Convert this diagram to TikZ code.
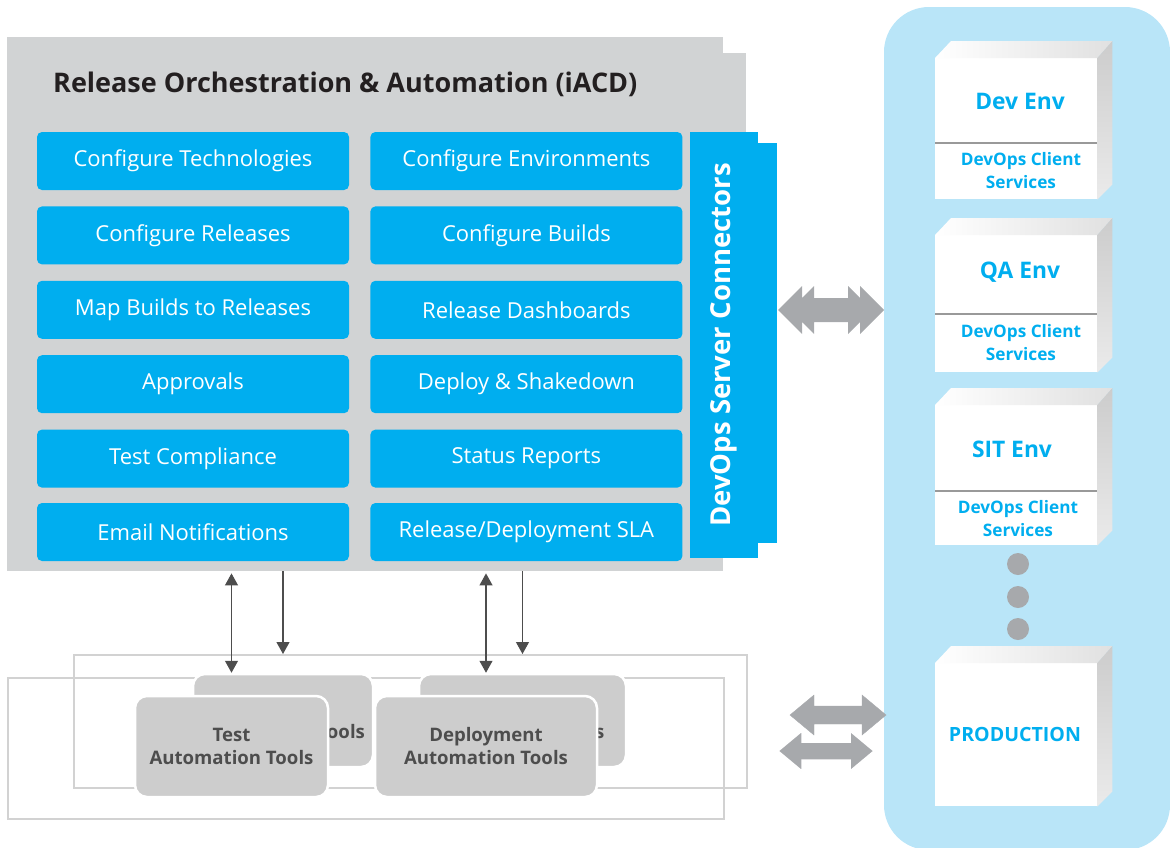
\documentclass[tikz,border=0pt]{standalone}
\usepackage{fontspec}
\setmainfont{Open Sans}
\usetikzlibrary{arrows.meta, positioning, calc}
\definecolor{CPanel}{HTML}{D1D3D4}
\definecolor{CCyan}{HTML}{00AEEF}
\definecolor{CSky}{HTML}{B9E5F8}
\definecolor{CLink}{HTML}{A7A9AC}
\definecolor{CTool}{HTML}{CDCDCD}
\definecolor{CToolText}{HTML}{4D4D4D}
\definecolor{CFrame}{HTML}{D2D2D2}
\definecolor{CTitle}{HTML}{231F20}
\newcommand{\drawBigLink}[1]{%
    % two chevrons on each end
    \fill[#1] (-53,0) -- (-29,-24) -- (-29,-12) -- (-17,-24) -- (-17,-12)
        -- (17,-12) -- (17,-24) -- (29,-12) -- (29,-24) -- (53,0)
        -- (29,24) -- (29,12) -- (17,24) -- (17,12) -- (-17,12)
        -- (-17,24) -- (-29,12) -- (-29,24) -- cycle;
}
\newcommand{\drawSmallLink}[1]{%
    \filldraw[#1] (-48,0) -- (-24,-20) -- (-24,-9) -- (24,-9) -- (24,-20) -- (48,0)
        -- (24,20) -- (24,9) -- (-24,9) -- (-24,20) -- cycle;
}
\newcommand{\drawEnvFaces}[1]{%
    % top and side faces of a box
    \shade[left color=white, right color=black!12]
        (#1.north west) -- ++(16,-17) -- ($(#1.north east)+(15,-17)$) -- (#1.north east) -- cycle;
    \shade[top color=black!20, bottom color=black!8]
        (#1.north east) -- ++(15,-17) -- ($(#1.south east)+(15,-15)$) -- (#1.south east) -- cycle;
}

\begin{document}
\begin{tikzpicture}[x=1pt, y=-1pt,
    task/.style={fill=CCyan, rounded corners=5pt, minimum width=312pt, minimum height=58pt,
        inner sep=0pt, text=white, font=\fontsize{22}{25}\selectfont},
    envbox/.style={fill=white, minimum width=162pt, inner sep=0pt},
    envname/.style={text=CCyan, font=\bfseries\fontsize{22.8}{26}\selectfont},
    envsub/.style={text=CCyan, align=center, font=\bfseries\fontsize{17.2}{23}\selectfont},
    tool/.style={fill=CTool, draw=white, line width=2.5pt, rounded corners=12pt, inner sep=0pt,
        align=center, text=CToolText, font=\bfseries\fontsize{18.6}{23}\selectfont},
    frame/.style={draw=CFrame, line width=1.6pt},
    feed/.style={draw=CToolText, line width=1.1pt, -{Triangle[length=12pt, width=13pt]}},
    feedboth/.style={draw=CToolText, line width=1.1pt, {Triangle[length=12pt, width=13pt]}-{Triangle[length=12pt, width=13pt]}}]

    \useasboundingbox (0,0) rectangle (1170,847);

    % --- 1. ORCHESTRATION PANEL ---
    \fill[CPanel] (723,53) rectangle (746,543);
    \node[fill=CPanel, minimum width=716pt, minimum height=534pt, inner sep=0pt, anchor=north west] (panel) at (7,37) {};
    \node[anchor=west, inner sep=0pt, text=CTitle, font=\bfseries\fontsize{27}{30}\selectfont] (title) at (53,84)
        {Release Orchestration \& Automation (iACD)};

    % left column
    \node[task] (tech) at (193,161) {Configure Technologies};
    \node[task, below=16pt of tech] (rel) {Configure Releases};
    \node[task, below=16pt of rel] (map) {Map Builds to Releases};
    \node[task, below=16pt of map] (appr) {Approvals};
    \node[task, below=16pt of appr] (comp) {Test Compliance};
    \node[task, below=15pt of comp] (mail) {Email Notifications};

    % right column
    \node[task, right=21pt of tech] (envs) {Configure Environments};
    \node[task, below=16pt of envs] (builds) {Configure Builds};
    \node[task, below=16pt of builds] (dash) {Release Dashboards};
    \node[task, below=16pt of dash] (deploy) {Deploy \& Shakedown};
    \node[task, below=16pt of deploy] (status) {Status Reports};
    \node[task, below=15pt of status] (sla) {Release/Deployment SLA};

    % connectors bar
    \fill[CCyan] (758,143) rectangle (777,543);
    \node[fill=CCyan, minimum width=68pt, minimum height=426pt, inner sep=0pt] (conn) at (724,345) {};
    \node[rotate=90, text=white, font=\bfseries\fontsize{27.5}{30}\selectfont] (connlabel) at (conn.center)
        {DevOps Server Connectors};

    % --- 2. ENVIRONMENTS ---
    \fill[CSky, rounded corners=45pt] (884,7) rectangle (1170,850);

    \node[envbox, minimum height=141pt, anchor=north west] (dev) at (935,58) {};
    \node[envbox, minimum height=137pt, anchor=north west] (qa) at (935,235) {};
    \node[envbox, minimum height=140pt, anchor=north west] (sit) at (935,405) {};
    \node[envbox, minimum height=143pt, anchor=north west] (prod) at (935,663) {};
    \foreach \b in {dev, qa, sit, prod} {
        \drawEnvFaces{\b}
    }

    \draw[black!40, line width=1.2pt] (935,143) -- (1097,143);
    \draw[black!40, line width=1.2pt] (935,314) -- (1097,314);
    \draw[black!40, line width=1.2pt] (935,491) -- (1097,491);

    \node[envname] (devname) at (1020,101) {Dev Env};
    \node[envsub] (devsub) at (1021,171) {DevOps Client\\Services};
    \node[envname] (qaname) at (1020,272) {QA Env};
    \node[envsub] (qasub) at (1021,343) {DevOps Client\\Services};
    \node[envname] (sitname) at (1012,449) {SIT Env};
    \node[envsub] (sitsub) at (1018,519) {DevOps Client\\Services};
    \node[envname, font=\bfseries\fontsize{19.6}{22}\selectfont] (prodname) at (1015,734) {PRODUCTION};

    \foreach \y in {564, 597, 629} {
        \fill[CLink] (1018,\y) circle (11);
    }

    % --- 3. LINKS ---
    \begin{scope}[shift={(831,310)}]
        \drawBigLink{CLink}
    \end{scope}
    \begin{scope}[shift={(838,715)}]
        \drawSmallLink{CLink, draw=CLink}
    \end{scope}
    \begin{scope}[shift={(826,751)}]
        \drawSmallLink{CLink, draw=white, line width=1.5pt}
    \end{scope}

    % --- 4. AUTOMATION TOOLS ---
    \node[frame, minimum width=673pt, minimum height=133pt, inner sep=0pt, anchor=north west] (outer) at (73,654) {};
    \node[frame, minimum width=716pt, minimum height=141pt, inner sep=0pt, anchor=north west] (inner) at (7,677) {};

    \node[tool, minimum width=180pt, minimum height=93pt] (testback) at (283,720.5) {Test\\Automation Tools};
    \node[tool, minimum width=207pt, minimum height=93pt] (depback) at (522.5,720.5) {Deployment\\Automation Tools};
    \node[tool, minimum width=193pt, minimum height=101pt] (testfront) at (231.5,746.5) {Test\\Automation Tools};
    \node[tool, minimum width=222pt, minimum height=101pt] (depfront) at (486,746.5) {Deployment\\Automation Tools};

    \draw[feedboth] (panel.south -| testfront.north) ++(0,2) -- (testback.north -| testfront.north);
    \draw[feed] (panel.south -| testback.north) -- (outer.north -| testback.north);
    \draw[feedboth] (panel.south -| depfront.north) ++(0,2) -- (depback.north -| depfront.north);
    \draw[feed] (panel.south -| depback.north) -- (outer.north -| depback.north);

\end{tikzpicture}
\end{document}
